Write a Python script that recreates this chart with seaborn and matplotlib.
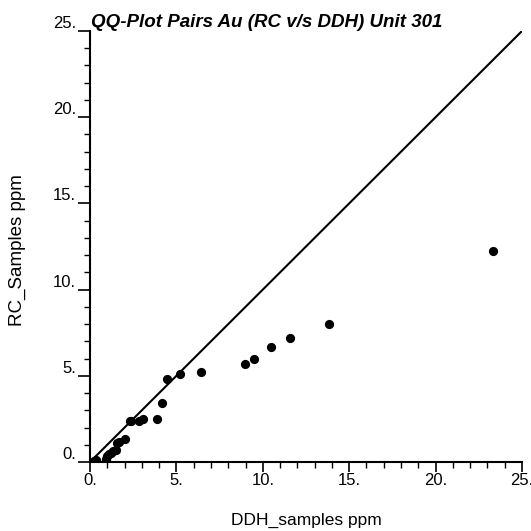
import matplotlib
matplotlib.use("Agg")
import matplotlib.pyplot as plt
import seaborn as sns
import pandas as pd
from matplotlib.ticker import MultipleLocator, FuncFormatter

sns.set_style("ticks")
plt.rcParams['font.family'] = ['Liberation Sans', 'DejaVu Sans']
plt.rcParams['text.color'] = 'black'
plt.rcParams['axes.labelcolor'] = 'black'

ddh = [0.15, 0.25, 0.35, 0.9, 0.95, 1.0, 1.1, 1.2, 1.35, 1.5, 1.55, 1.65, 2.05, 2.3,
       2.4, 2.85, 3.05, 3.9, 4.15, 4.45, 5.2, 6.45, 8.95, 9.5, 10.45, 11.55, 13.85, 23.35]
rc = [0.02, 0.05, 0.1, 0.12, 0.2, 0.32, 0.45, 0.52, 0.62, 0.7, 1.1, 1.15, 1.32, 2.35,
      2.38, 2.4, 2.48, 2.48, 3.45, 4.82, 5.1, 5.24, 5.7, 6.0, 6.67, 7.2, 8.02, 12.25]
ref_line = [0, 25]
major_ticks = [0, 5, 10, 15, 20, 25]

df = pd.DataFrame({"DDH": ddh, "RC": rc})
line_df = pd.DataFrame({"x": ref_line, "y": ref_line})

fig = plt.figure(figsize=(5.31, 5.31), dpi=100)
ax = fig.add_axes([90/531, 1-462/531, 432/531, 431/531])

sns.lineplot(data=line_df, x="x", y="y", ax=ax, color="black", linewidth=1.5)
sns.scatterplot(data=df, x="DDH", y="RC", ax=ax, color="black", s=44,
                edgecolor="black", linewidth=0, zorder=3)

ax.set_xlim(0, 25)
ax.set_ylim(0, 25)
ax.set_xticks(major_ticks)
ax.set_yticks(major_ticks)
ax.xaxis.set_minor_locator(MultipleLocator(1))
ax.yaxis.set_minor_locator(MultipleLocator(1))
fmt = FuncFormatter(lambda v, p: f"{int(round(v))}.")
ax.xaxis.set_major_formatter(fmt)
ax.yaxis.set_major_formatter(fmt)

for s in ["top", "right"]:
    ax.spines[s].set_visible(False)
for s in ["left", "bottom"]:
    ax.spines[s].set_linewidth(1.5)
    ax.spines[s].set_color("black")

ax.tick_params(axis="x", which="major", length=7, width=1.2, labelsize=12, pad=1,
               colors="black", labelcolor="black")
ax.tick_params(axis="x", which="minor", length=4, width=1.0, colors="black")
ax.tick_params(axis="y", which="major", length=9, width=1.2, labelsize=12, pad=1,
               colors="black", labelcolor="black")
ax.tick_params(axis="y", which="minor", length=4, width=1.0, colors="black")
for lab in ax.get_yticklabels():
    lab.set_verticalalignment("bottom")

ax.set_xlabel("DDH_samples ppm", fontsize=12.5, labelpad=18, color="black")
ax.set_ylabel("RC_Samples ppm", fontsize=13.5, color="black")
ax.yaxis.set_label_coords((26 - 90) / 432, (462 - 250) / 431)
ax.set_title("QQ-Plot Pairs Au (RC v/s DDH) Unit 301", fontsize=13.5, fontweight="bold",
             fontstyle="italic", loc="left", pad=2, x=0.003, color="black")

fig.savefig("out.png", dpi=100)
